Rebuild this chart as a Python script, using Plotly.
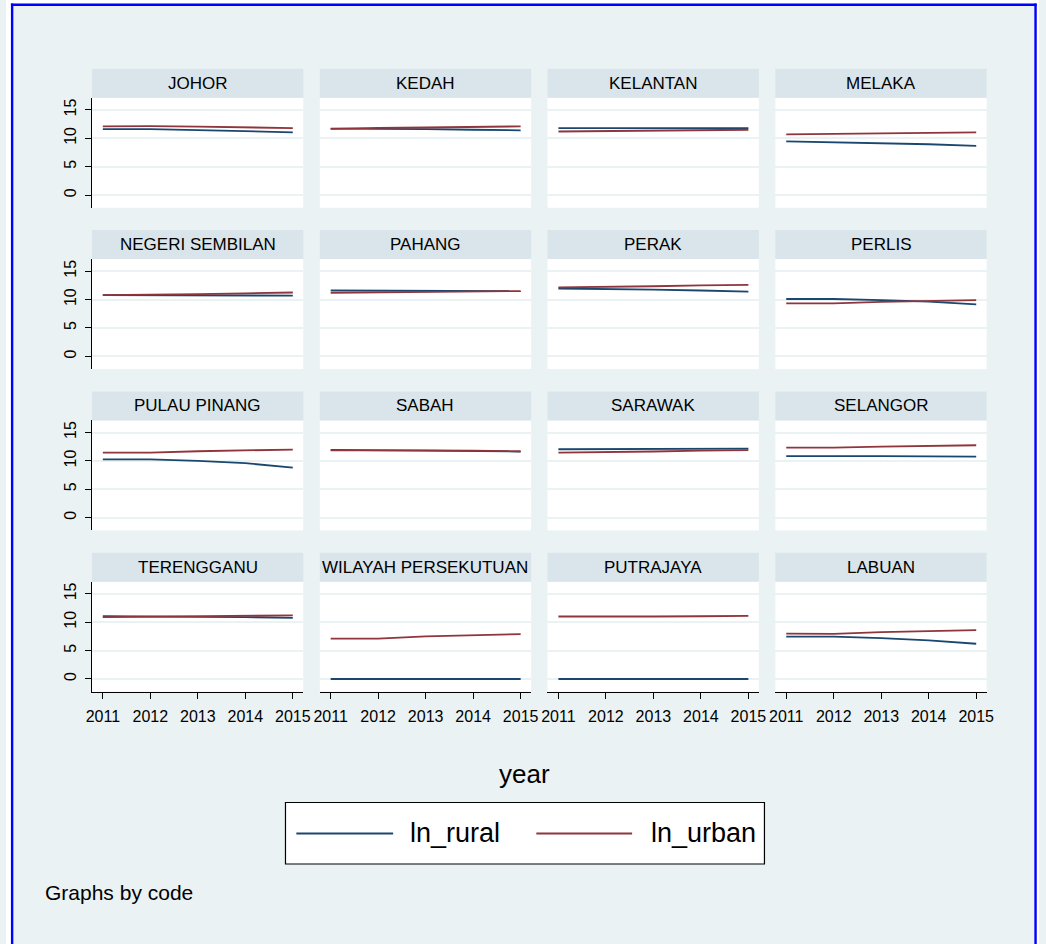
import plotly.graph_objects as go

years = [2011, 2012, 2013, 2014, 2015]
states = ["JOHOR", "KEDAH", "KELANTAN", "MELAKA",
          "NEGERI SEMBILAN", "PAHANG", "PERAK", "PERLIS",
          "PULAU PINANG", "SABAH", "SARAWAK", "SELANGOR",
          "TERENGGANU", "WILAYAH PERSEKUTUAN", "PUTRAJAYA", "LABUAN"]

ln_rural = [
    [11.60, 11.60, 11.45, 11.25, 11.05],  # JOHOR
    [11.70, 11.70, 11.60, 11.50, 11.40],  # KEDAH
    [11.80, 11.80, 11.80, 11.80, 11.80],  # KELANTAN
    [9.45, 9.30, 9.15, 8.95, 8.65],       # MELAKA
    [10.80, 10.80, 10.75, 10.70, 10.70],  # NEGERI SEMBILAN
    [11.60, 11.60, 11.55, 11.50, 11.50],  # PAHANG
    [11.95, 11.90, 11.75, 11.60, 11.40],  # PERAK
    [10.10, 10.10, 9.90, 9.65, 9.15],     # PERLIS
    [10.25, 10.25, 10.00, 9.60, 8.80],    # PULAU PINANG
    [11.95, 11.90, 11.85, 11.80, 11.65],  # SABAH
    [12.05, 12.05, 12.10, 12.10, 12.15],  # SARAWAK
    [10.85, 10.90, 10.85, 10.80, 10.75],  # SELANGOR
    [11.05, 11.00, 11.00, 10.90, 10.75],  # TERENGGANU
    [0.0, 0.0, 0.0, 0.0, 0.0],            # WILAYAH PERSEKUTUAN
    [0.0, 0.0, 0.0, 0.0, 0.0],            # PUTRAJAYA
    [7.45, 7.45, 7.20, 6.80, 6.20],       # LABUAN
]

ln_urban = [
    [12.10, 12.15, 12.05, 11.90, 11.80],  # JOHOR
    [11.65, 11.85, 11.90, 12.00, 12.10],  # KEDAH
    [11.20, 11.25, 11.35, 11.40, 11.50],  # KELANTAN
    [10.70, 10.75, 10.85, 10.95, 11.05],  # MELAKA
    [10.80, 10.85, 10.95, 11.10, 11.25],  # NEGERI SEMBILAN
    [11.20, 11.25, 11.35, 11.40, 11.50],  # PAHANG
    [12.15, 12.20, 12.35, 12.50, 12.60],  # PERAK
    [9.35, 9.35, 9.60, 9.80, 9.90],       # PERLIS
    [11.45, 11.45, 11.70, 11.85, 12.00],  # PULAU PINANG
    [11.85, 11.90, 11.85, 11.80, 11.70],  # SABAH
    [11.45, 11.50, 11.65, 11.80, 11.90],  # SARAWAK
    [12.35, 12.35, 12.50, 12.60, 12.75],  # SELANGOR
    [10.90, 10.95, 11.00, 11.10, 11.20],  # TERENGGANU
    [7.10, 7.10, 7.50, 7.75, 7.90],       # WILAYAH PERSEKUTUAN
    [11.00, 10.95, 11.00, 11.05, 11.10],  # PUTRAJAYA
    [8.00, 7.95, 8.25, 8.45, 8.60],       # LABUAN
]

y_ticks = [0, 5, 10, 15]
series_names = ["ln_rural", "ln_urban"]

# ---- styling / layout ----
W, H = 1046, 944
FONT = "Liberation Sans, Arial, Helvetica, sans-serif"
BG = "#eaf2f3"
STRIP = "#d9e5ea"
NAVY = "#1a476f"
MAROON = "#90353b"

def px_x(p):
    return p / W

def px_y(p):
    return 1 - p / H

col_left = [87.0, 317.7, 548.3, 779.0]
panel_w = 214.0
row_top = [97.8, 259.1, 420.4, 581.7]
panel_h = 110.0
strip_h = 29.0
yrange = [-2.24, 17.13]
xrange = [2010.77, 2015.22]

fig = go.Figure()
shapes = []
annotations = []

for i, st in enumerate(states):
    r, c = divmod(i, 4)
    idx = i + 1
    xa = "x" if idx == 1 else f"x{idx}"
    ya = "y" if idx == 1 else f"y{idx}"
    fig.add_trace(go.Scatter(x=years, y=ln_rural[i], mode="lines",
                             line=dict(color=NAVY, width=1.8),
                             name=series_names[0], showlegend=False,
                             xaxis=xa, yaxis=ya))
    fig.add_trace(go.Scatter(x=years, y=ln_urban[i], mode="lines",
                             line=dict(color=MAROON, width=1.8),
                             name=series_names[1], showlegend=False,
                             xaxis=xa, yaxis=ya))
    x0 = col_left[c]
    x1 = x0 + panel_w
    y0 = row_top[r]
    y1 = y0 + panel_h
    xkey = "xaxis" if idx == 1 else f"xaxis{idx}"
    ykey = "yaxis" if idx == 1 else f"yaxis{idx}"
    bottom = (r == 3)
    left = (c == 0)
    fig.layout[xkey] = dict(
        domain=[px_x(x0), px_x(x1)], anchor=ya, range=xrange,
        tickvals=years, ticktext=[str(y) for y in years],
        showticklabels=bottom, showline=bottom, linecolor="black", linewidth=1,
        ticks="outside" if bottom else "", ticklen=6, tickcolor="black",
        tickfont=dict(family=FONT, size=16, color="black"),
        ticklabelstandoff=4,
        showgrid=False, zeroline=False, fixedrange=True,
    )
    fig.layout[ykey] = dict(
        domain=[px_y(y1), px_y(y0)], anchor=xa, range=yrange,
        tickvals=y_ticks, ticktext=[str(v) for v in y_ticks],
        showticklabels=left, showline=left, linecolor="black", linewidth=1,
        ticks="outside" if left else "", ticklen=6, tickcolor="black",
        tickangle=-90,
        tickfont=dict(family=FONT, size=16, color="black"),
        ticklabelstandoff=3,
        showgrid=True, gridcolor=BG, gridwidth=1.6, zeroline=False,
        fixedrange=True,
    )
    # strip
    shapes.append(dict(type="rect", xref="paper", yref="paper",
                       x0=px_x(x0), x1=px_x(x1),
                       y0=px_y(y0), y1=px_y(y0 - strip_h),
                       fillcolor=STRIP, line=dict(width=0), layer="below"))
    annotations.append(dict(text=st, xref="paper", yref="paper",
                            x=px_x((x0 + x1) / 2), y=px_y(y0 - strip_h / 2),
                            xanchor="center", yanchor="middle", showarrow=False,
                            font=dict(family=FONT, size=17, color="black")))

# outer white edges (inside the paper) + blue frame lines
for (a0, a1, b0, b1) in [(0, 5, 0, 944), (0, 1046, 0, 3.5), (1043.5, 1046, 0, 944)]:
    shapes.append(dict(type="rect", xref="paper", yref="paper",
                       x0=px_x(a0), x1=px_x(a1), y0=px_y(b1), y1=px_y(b0),
                       fillcolor="white", line=dict(width=0), layer="below"))
frame = dict(color="#0000ff", width=2.4)
shapes.append(dict(type="line", xref="paper", yref="paper",
                   x0=px_x(6.2), x1=px_x(6.2), y0=px_y(944), y1=px_y(3.5), line=frame))
shapes.append(dict(type="line", xref="paper", yref="paper",
                   x0=px_x(5), x1=px_x(1043.5), y0=px_y(4.7), y1=px_y(4.7), line=frame))
shapes.append(dict(type="line", xref="paper", yref="paper",
                   x0=px_x(1042.5), x1=px_x(1042.5), y0=px_y(944), y1=px_y(3.5), line=frame))

# x axis title
annotations.append(dict(text="year", xref="paper", yref="paper",
                        x=px_x(525), y=px_y(774), xanchor="center", yanchor="middle",
                        showarrow=False, font=dict(family=FONT, size=26, color="black")))

# legend box
shapes.append(dict(type="rect", xref="paper", yref="paper",
                   x0=px_x(283), x1=px_x(768), y0=px_y(864), y1=px_y(802.5),
                   fillcolor="white", line=dict(color="black", width=1.2), layer="below"))
leg_items = [(294, 392, 407, series_names[0], NAVY), (537, 634, 651, series_names[1], MAROON)]
for (lx0, lx1, tx, name, col) in leg_items:
    shapes.append(dict(type="line", xref="paper", yref="paper",
                       x0=px_x(lx0), x1=px_x(lx1), y0=px_y(833.5), y1=px_y(833.5),
                       line=dict(color=col, width=2)))
    annotations.append(dict(text=name, xref="paper", yref="paper",
                            x=px_x(tx), y=px_y(833), xanchor="left", yanchor="middle",
                            showarrow=False, font=dict(family=FONT, size=27, color="black")))

annotations.append(dict(text="Graphs by code", xref="paper", yref="paper",
                        x=px_x(37), y=px_y(892), xanchor="left", yanchor="middle",
                        showarrow=False, font=dict(family=FONT, size=21, color="black")))

fig.update_layout(
    width=W, height=H, autosize=False,
    margin=dict(l=0, r=0, t=0, b=0),
    paper_bgcolor=BG, plot_bgcolor="white",
    showlegend=False,
    shapes=shapes, annotations=annotations,
    font=dict(family=FONT, color="black"),
)

post = (
    "document.documentElement.style.margin='0';"
    "document.documentElement.style.overflow='hidden';"
    "document.body.style.margin='0';"
    "document.body.style.overflow='hidden';"
)
fig.write_html("out.html", config={"displayModeBar": False, "responsive": False},
               post_script=post)
